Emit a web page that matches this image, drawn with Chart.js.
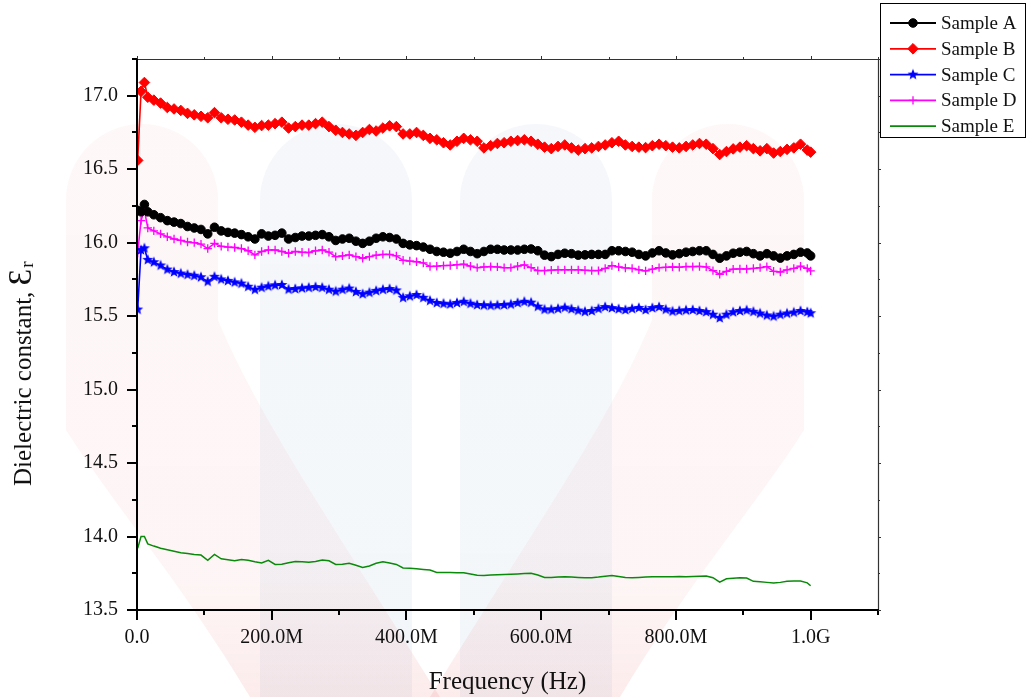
<!DOCTYPE html>
<html>
<head>
<meta charset="utf-8">
<title>Dielectric constant vs frequency</title>
<script src="https://cdn.jsdelivr.net/npm/chart.js@4.4.0/dist/chart.umd.min.js"></script>
<style>
  html, body { margin: 0; padding: 0; background: #ffffff; }
  #wrap { width: 1028px; height: 697px; position: relative; }
</style>
</head>
<body>
<div id="wrap"><canvas id="chart" width="1028" height="697"></canvas></div>
<script>
// Sweep frequencies in MHz
const freqMHz = [
  1, 6, 11, 16,
  25, 35, 45, 55, 65, 75, 85, 95, 105, 115,
  125, 135, 145, 155, 165, 175, 185, 195, 205, 215,
  225, 235, 245, 255, 265, 275, 285, 295, 305, 315,
  325, 335, 345, 355, 365, 375, 385, 395, 405, 415,
  425, 435, 445, 455, 465, 475, 485, 495, 505, 515,
  525, 535, 545, 555, 565, 575, 585, 595, 605, 615,
  625, 635, 645, 655, 665, 675, 685, 695, 705, 715,
  725, 735, 745, 755, 765, 775, 785, 795, 805, 815,
  825, 835, 845, 855, 865, 875, 885, 895, 905, 915,
  925, 935, 945, 955, 965, 975, 985, 995,
  1000
];

const sampleA = [
  16.22, 16.21, 16.26, 16.21,
  16.19, 16.17, 16.15, 16.14, 16.13, 16.11, 16.10, 16.09, 16.06, 16.105,
  16.08, 16.07, 16.065, 16.055, 16.04, 16.025, 16.06, 16.045, 16.05, 16.065,
  16.025, 16.035, 16.045, 16.045, 16.05, 16.055, 16.04, 16.015, 16.025, 16.03,
  16.01, 15.995, 16.01, 16.03, 16.04, 16.035, 16.025, 15.995, 15.985, 15.98,
  15.97, 15.955, 15.94, 15.935, 15.928, 15.94, 15.955, 15.94, 15.925, 15.94,
  15.955, 15.955, 15.95, 15.95, 15.95, 15.955, 15.957, 15.945, 15.915, 15.905,
  15.92, 15.928, 15.925, 15.915, 15.917, 15.92, 15.92, 15.92, 15.945, 15.945,
  15.94, 15.935, 15.92, 15.91, 15.93, 15.945, 15.93, 15.917, 15.925, 15.935,
  15.94, 15.945, 15.945, 15.92, 15.894, 15.91, 15.928, 15.935, 15.94, 15.925,
  15.91, 15.925, 15.91, 15.895, 15.91, 15.92, 15.935, 15.93,
  15.91
];

const sampleB = [
  16.56, 17.03, 17.09, 16.99,
  16.97, 16.95, 16.92, 16.91, 16.90, 16.88, 16.87, 16.86, 16.85, 16.885,
  16.85, 16.84, 16.835, 16.82, 16.80, 16.785, 16.797, 16.80, 16.81, 16.82,
  16.78, 16.79, 16.80, 16.80, 16.81, 16.82, 16.79, 16.765, 16.75, 16.74,
  16.73, 16.75, 16.77, 16.76, 16.78, 16.795, 16.79, 16.74, 16.74, 16.75,
  16.73, 16.71, 16.70, 16.68, 16.665, 16.69, 16.71, 16.70, 16.69, 16.645,
  16.66, 16.675, 16.68, 16.69, 16.695, 16.70, 16.69, 16.67, 16.65, 16.64,
  16.655, 16.665, 16.645, 16.63, 16.64, 16.645, 16.655, 16.665, 16.68, 16.69,
  16.665, 16.655, 16.65, 16.647, 16.66, 16.67, 16.66, 16.65, 16.645, 16.655,
  16.665, 16.675, 16.67, 16.64, 16.60, 16.62, 16.638, 16.65, 16.66, 16.64,
  16.625, 16.64, 16.61, 16.62, 16.635, 16.645, 16.67, 16.63,
  16.616
];

const sampleC = [
  15.545, 15.95, 15.962, 15.883,
  15.867, 15.845, 15.817, 15.80, 15.79, 15.782, 15.775, 15.765, 15.735, 15.768,
  15.75, 15.74, 15.73, 15.722, 15.70, 15.68, 15.694, 15.703, 15.71, 15.712,
  15.682, 15.685, 15.69, 15.694, 15.698, 15.694, 15.68, 15.668, 15.68, 15.688,
  15.665, 15.65, 15.66, 15.672, 15.68, 15.685, 15.675, 15.625, 15.635, 15.644,
  15.625, 15.605, 15.59, 15.585, 15.581, 15.59, 15.598, 15.585, 15.576, 15.574,
  15.572, 15.574, 15.576, 15.58, 15.59, 15.598, 15.592, 15.565, 15.545, 15.545,
  15.55, 15.558, 15.548, 15.538, 15.53, 15.535, 15.55, 15.562, 15.555, 15.548,
  15.542, 15.55, 15.556, 15.542, 15.555, 15.562, 15.545, 15.532, 15.536, 15.54,
  15.542, 15.535, 15.528, 15.51, 15.487, 15.51, 15.527, 15.535, 15.54, 15.53,
  15.518, 15.505, 15.498, 15.51, 15.518, 15.525, 15.535, 15.528,
  15.52
];

const sampleD = [
  15.93, 16.15, 16.22, 16.10,
  16.08, 16.06, 16.04, 16.025, 16.015, 16.005, 16.0, 15.99, 15.96, 15.995,
  15.975, 15.97, 15.967, 15.96, 15.945, 15.917, 15.94, 15.95, 15.95, 15.94,
  15.928, 15.94, 15.935, 15.933, 15.945, 15.95, 15.935, 15.905, 15.91, 15.917,
  15.905, 15.894, 15.905, 15.915, 15.92, 15.92, 15.91, 15.88, 15.875, 15.87,
  15.862, 15.838, 15.84, 15.844, 15.845, 15.85, 15.853, 15.84, 15.83, 15.835,
  15.837, 15.835, 15.83, 15.83, 15.84, 15.849, 15.83, 15.81, 15.81, 15.813,
  15.815, 15.815, 15.815, 15.815, 15.812, 15.81, 15.81, 15.825, 15.844, 15.835,
  15.828, 15.825, 15.815, 15.808, 15.82, 15.83, 15.832, 15.835, 15.833, 15.837,
  15.837, 15.838, 15.835, 15.81, 15.785, 15.805, 15.82, 15.821, 15.821, 15.825,
  15.83, 15.837, 15.805, 15.80, 15.815, 15.825, 15.84, 15.825,
  15.808
];

const sampleE = [
  13.92, 14.0, 14.0, 13.95,
  13.935, 13.92, 13.91, 13.90, 13.89, 13.885, 13.878, 13.874, 13.838, 13.878,
  13.848, 13.842, 13.836, 13.843, 13.838, 13.828, 13.82, 13.838, 13.81, 13.812,
  13.822, 13.83, 13.828, 13.825, 13.83, 13.84, 13.835, 13.81, 13.812, 13.818,
  13.805, 13.79, 13.80, 13.818, 13.828, 13.82, 13.81, 13.786, 13.784, 13.78,
  13.776, 13.772, 13.756, 13.755, 13.755, 13.754, 13.754, 13.745, 13.736, 13.735,
  13.738, 13.74, 13.742, 13.743, 13.745, 13.748, 13.75, 13.738, 13.722, 13.722,
  13.725, 13.727, 13.725, 13.722, 13.72, 13.72, 13.724, 13.73, 13.734, 13.728,
  13.722, 13.72, 13.722, 13.725, 13.726, 13.727, 13.727, 13.727, 13.728, 13.727,
  13.728, 13.73, 13.731, 13.72, 13.69, 13.712, 13.716, 13.72, 13.718, 13.695,
  13.692, 13.688, 13.683, 13.688, 13.695, 13.697, 13.697, 13.685,
  13.665
];

const seriesNames = ['Sample A', 'Sample B', 'Sample C', 'Sample D', 'Sample E'];
const xTickLabels = ['0.0', '200.0M', '400.0M', '600.0M', '800.0M', '1.0G'];
const yTickLabels = ['13.5', '14.0', '14.5', '15.0', '15.5', '16.0', '16.5', '17.0'];
const xTitle = 'Frequency (Hz)';
const yTitleMain = 'Dielectric constant, ';
const yTitleSymbol = '\u0190';
const yTitleSub = 'r';

const SERIF = '"Liberation Serif", "Times New Roman", serif';

// Filled five-point star used as the Sample C marker
function makeStar(color, outer, inner) {
  const size = Math.ceil(outer * 2 + 2);
  const cv = document.createElement('canvas');
  cv.width = size; cv.height = size;
  const c = cv.getContext('2d');
  const cx = size / 2, cy = size / 2;
  c.beginPath();
  for (let i = 0; i < 10; i++) {
    const r = i % 2 === 0 ? outer : inner;
    const a = -Math.PI / 2 + i * Math.PI / 5;
    const px = cx + r * Math.cos(a), py = cy + r * Math.sin(a);
    if (i === 0) c.moveTo(px, py); else c.lineTo(px, py);
  }
  c.closePath();
  c.fillStyle = color;
  c.fill();
  return cv;
}
const starBlue = makeStar('#0000ff', 5.8, 2.5);

function toPoints(vals) {
  return vals.map((v, i) => ({ x: freqMHz[i] * 1e6, y: v }));
}

const datasets = [
  { label: seriesNames[0], data: toPoints(sampleA), borderColor: '#000000', backgroundColor: '#000000',
    pointStyle: 'circle', pointRadius: 4.3, pointBorderWidth: 1, borderWidth: 1.6 },
  { label: seriesNames[1], data: toPoints(sampleB), borderColor: '#ff0000', backgroundColor: '#ff0000',
    pointStyle: 'rectRot', pointRadius: 5.3, pointBorderWidth: 1, borderWidth: 1.6 },
  { label: seriesNames[2], data: toPoints(sampleC), borderColor: '#0000ff', backgroundColor: '#0000ff',
    pointStyle: starBlue, pointRadius: 5, pointBorderWidth: 0, borderWidth: 1.6 },
  { label: seriesNames[3], data: toPoints(sampleD), borderColor: '#ff00ff', backgroundColor: '#ff00ff',
    pointStyle: 'cross', pointRadius: 4.2, pointBorderWidth: 1.3, borderWidth: 1.5 },
  { label: seriesNames[4], data: toPoints(sampleE), borderColor: '#0a8a0a', backgroundColor: '#0a8a0a',
    pointStyle: 'line', pointRadius: 0, pointBorderWidth: 1, borderWidth: 1.5 }
];
datasets.forEach(d => { d.fill = false; d.tension = 0; d.pointHoverRadius = d.pointRadius; });

// Faint logo shapes painted behind the plot
const backdrop = {
  id: 'backdrop',
  beforeDraw(chart) {
    const ctx = chart.ctx;
    ctx.save();
    const pink = ctx.createLinearGradient(0, 120, 0, 697);
    pink.addColorStop(0, 'rgba(225,40,40,0.035)');
    pink.addColorStop(0.8, 'rgba(225,40,40,0.045)');
    pink.addColorStop(1, 'rgba(225,40,40,0.09)');
    const blue = ctx.createLinearGradient(0, 120, 0, 697);
    blue.addColorStop(0, 'rgba(60,110,170,0.05)');
    blue.addColorStop(1, 'rgba(60,110,170,0.06)');

    ctx.fillStyle = blue;
    [336, 536].forEach(cx => {
      ctx.beginPath();
      ctx.moveTo(cx - 76, 697);
      ctx.lineTo(cx - 76, 200);
      ctx.arc(cx, 200, 76, Math.PI, 2 * Math.PI);
      ctx.lineTo(cx + 76, 697);
      ctx.closePath();
      ctx.fill();
    });

    ctx.fillStyle = pink;
    ctx.beginPath();
    ctx.moveTo(66, 430);
    ctx.lineTo(66, 200);
    ctx.arc(142, 200, 76, Math.PI, 2 * Math.PI);
    ctx.lineTo(218, 320);
    ctx.bezierCurveTo(260, 420, 330, 520, 440, 697);
    ctx.lineTo(250, 697);
    ctx.bezierCurveTo(180, 580, 110, 500, 66, 430);
    ctx.closePath();
    ctx.fill();

    ctx.beginPath();
    ctx.moveTo(804, 430);
    ctx.lineTo(804, 200);
    ctx.arc(728, 200, 76, 2 * Math.PI, Math.PI, true);
    ctx.lineTo(652, 320);
    ctx.bezierCurveTo(610, 420, 540, 520, 430, 697);
    ctx.lineTo(620, 697);
    ctx.bezierCurveTo(690, 580, 760, 500, 804, 430);
    ctx.closePath();
    ctx.fill();
    ctx.restore();
  }
};

// Axis lines, tick marks, frame, titles and legend
const decorations = {
  id: 'decorations',
  afterDraw(chart) {
    const ctx = chart.ctx;
    const xs = chart.scales.x, ys = chart.scales.y;
    const a = chart.chartArea;
    ctx.save();

    // thin frame on top and right
    ctx.strokeStyle = '#333333';
    ctx.lineWidth = 1.2;
    ctx.beginPath();
    ctx.moveTo(a.left, a.top + 0.5); ctx.lineTo(a.right + 0.5, a.top + 0.5);
    ctx.lineTo(a.right + 0.5, a.bottom);
    ctx.stroke();

    // main axes
    ctx.strokeStyle = '#000000';
    ctx.lineWidth = 2;
    ctx.beginPath();
    ctx.moveTo(a.left, a.top); ctx.lineTo(a.left, a.bottom + 1);
    ctx.moveTo(a.left - 1, a.bottom); ctx.lineTo(a.right + 1, a.bottom);
    ctx.stroke();

    // x ticks (bottom outward, top small)
    xs.ticks.forEach(t => {
      const px = Math.round(xs.getPixelForValue(t.value));
      const major = Math.round(t.value / 1e8) % 2 === 0;
      ctx.lineWidth = 2;
      ctx.strokeStyle = '#000000';
      ctx.beginPath();
      ctx.moveTo(px, a.bottom); ctx.lineTo(px, a.bottom + (major ? 10 : 5));
      ctx.stroke();
      ctx.lineWidth = 1;
      ctx.strokeStyle = '#333333';
      ctx.beginPath();
      ctx.moveTo(px + 0.5, a.top); ctx.lineTo(px + 0.5, a.top - (major ? 3 : 2));
      ctx.stroke();
    });
    // y ticks (left outward, right small)
    ys.ticks.forEach(t => {
      const py = Math.round(ys.getPixelForValue(t.value));
      const major = Math.round((t.value - 13.5) / 0.25) % 2 === 0;
      ctx.lineWidth = 2;
      ctx.strokeStyle = '#000000';
      ctx.beginPath();
      ctx.moveTo(a.left, py); ctx.lineTo(a.left - (major ? 10 : 5), py);
      ctx.stroke();
      ctx.lineWidth = 1;
      ctx.strokeStyle = '#333333';
      ctx.beginPath();
      ctx.moveTo(a.right, py + 0.5); ctx.lineTo(a.right + (major ? 3 : 2), py + 0.5);
      ctx.stroke();
    });

    // axis titles
    ctx.fillStyle = '#111111';
    ctx.font = '25px ' + SERIF;
    ctx.textAlign = 'center';
    ctx.textBaseline = 'alphabetic';
    ctx.fillText(xTitle, (a.left + a.right) / 2, 689);

    ctx.save();
    ctx.translate(31, 486);
    ctx.rotate(-Math.PI / 2);
    ctx.textAlign = 'left';
    ctx.font = '25px ' + SERIF;
    ctx.fillText(yTitleMain, 0, 0);
    let w = ctx.measureText(yTitleMain).width;
    ctx.font = '33px ' + SERIF;
    ctx.fillText(yTitleSymbol, w, 0);
    w += ctx.measureText(yTitleSymbol).width;
    ctx.font = '19px ' + SERIF;
    ctx.fillText(yTitleSub, w + 1, 2);
    ctx.restore();

    // legend box
    const lx = 880.5, ly = 3.5, lw = 145, lh = 134;
    ctx.fillStyle = '#ffffff';
    ctx.fillRect(lx, ly, lw, lh);
    ctx.strokeStyle = '#000000';
    ctx.lineWidth = 1;
    ctx.strokeRect(lx, ly, lw, lh);
    chart.data.datasets.forEach((ds, i) => {
      const cy = 23 + i * 25.8;
      ctx.strokeStyle = ds.borderColor;
      ctx.lineWidth = 1.8;
      ctx.beginPath();
      ctx.moveTo(890, cy); ctx.lineTo(936, cy);
      ctx.stroke();
      if (ds.pointRadius > 0) {
        ctx.fillStyle = ds.backgroundColor;
        ctx.strokeStyle = ds.borderColor;
        ctx.lineWidth = ds.pointBorderWidth || 1;
        Chart.helpers.drawPoint(ctx, {
          pointStyle: ds.pointStyle, radius: ds.pointRadius, rotation: 0,
          borderWidth: ds.pointBorderWidth
        }, 913, cy);
      }
      ctx.fillStyle = '#111111';
      ctx.font = '19px ' + SERIF;
      ctx.textAlign = 'left';
      ctx.textBaseline = 'middle';
      ctx.fillText(ds.label, 941, cy + 1);
    });
    ctx.restore();
  }
};

new Chart(document.getElementById('chart'), {
  type: 'line',
  data: { datasets },
  plugins: [backdrop, decorations],
  options: {
    responsive: false,
    animation: false,
    devicePixelRatio: 1,
    layout: { padding: { left: 0, top: 59, right: 150, bottom: 0 } },
    plugins: { legend: { display: false }, tooltip: { enabled: false } },
    scales: {
      x: {
        type: 'linear',
        min: 0,
        max: 1.1e9,
        afterFit: s => { s.height = 87; },
        grid: { display: false, drawTicks: false },
        border: { display: false },
        ticks: {
          stepSize: 1e8,
          includeBounds: false,
          autoSkip: false,
          maxRotation: 0,
          padding: 16,
          color: '#111111',
          font: { family: SERIF, size: 20 },
          callback: v => {
            const k = Math.round(v / 1e8);
            return k % 2 === 0 ? (xTickLabels[k / 2] || '') : '';
          }
        }
      },
      y: {
        type: 'linear',
        min: 13.5,
        max: 17.25,
        afterFit: s => { s.width = 137; },
        grid: { display: false, drawTicks: false },
        border: { display: false },
        ticks: {
          stepSize: 0.25,
          includeBounds: false,
          autoSkip: false,
          padding: 19,
          color: '#111111',
          font: { family: SERIF, size: 20 },
          callback: v => {
            const k = Math.round((v - 13.5) / 0.25);
            return k % 2 === 0 ? (yTickLabels[k / 2] || '') : '';
          }
        }
      }
    }
  }
});
</script>
</body>
</html>
